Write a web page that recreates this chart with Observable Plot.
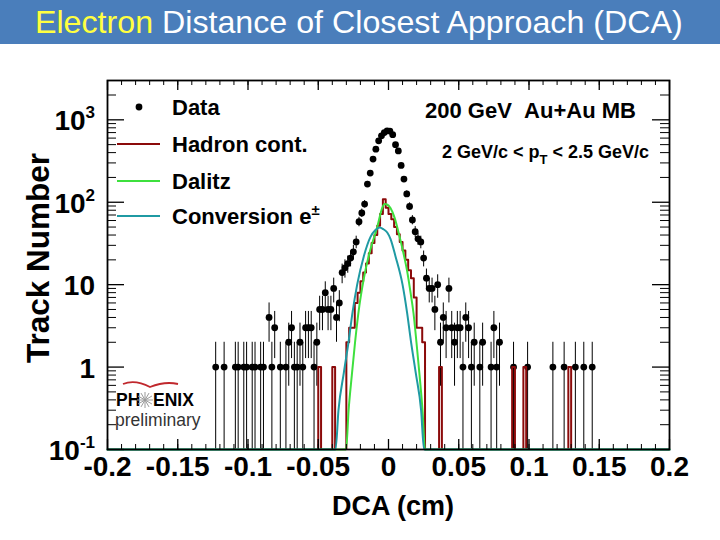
<!DOCTYPE html>
<html>
<head>
<meta charset="utf-8">
<script src="https://cdn.jsdelivr.net/npm/d3@7"></script>
<script src="https://cdn.jsdelivr.net/npm/@observablehq/plot@0.6"></script>
<style>
  html, body { margin: 0; padding: 0; background: #fff; }
  body { width: 720px; height: 540px; overflow: hidden; font-family: "Liberation Sans", Arial, Helvetica, sans-serif; }
  #banner { height: 44px; background: #4a7ebb; color: #fff; font-size: 32.2px; line-height: 44px; padding-left: 35px; white-space: nowrap; }
  #banner .y { color: #ffff40; }
</style>
</head>
<body>
<div id="banner"><span class="y">Electron</span> Distance of Closest Approach (DCA)</div>
<div id="chart"></div>
<script>
// ---------------- DATA ----------------
// Histogram binning: 200 bins of 0.002 cm from -0.2 to 0.2 cm
const binStart = -0.2;
const binWidth = 0.002;
const nBins = 200;

// Data: non-empty bin indices and their counts
const dataBins = [38,41,45,46,48,49,51,52,54,55,57,58,59,61,63,64,65,66,67,68,69,70,71,72,73,74,75,76,77,78,79,80,81,82,
  83,84,85,86,87,88,89,90,91,92,93,94,95,96,97,98,99,100,101,102,103,104,105,106,107,108,109,110,111,112,113,114,115,116,117,
  118,119,120,121,122,123,124,125,126,127,128,129,130,132,133,136,137,138,139,144,149,158,162,166,169,172];
const dataCounts = [1,1,1,1,1,1,1,1,1,1,4,1,3,1,1,2,3,1,1,2,1,3,3,3,1,2,5,5,8,5,5,9,4,6,
  14,16,18,21,25,33,58,74,95,166,226,334,441,556,640,701,736,730,660,500,420,280,191,126,89,61,44,36,33,21,12,9,9,5,10,
  2,4,3,9,3,2,3,3,1,4,3,1,2,1,2,1,3,1,2,1,1,1,1,1,1,1];

// Hadron contamination histogram: non-empty bins and contents
const hadronBins = [75,80,85,86,87,88,89,90,91,92,93,94,95,96,97,98,99,100,101,102,103,104,105,106,107,108,109,110,111,112,118,144,148,164];
const hadronVals = [1,1,2,3,3,6,8,11,14,18,24,32,40,52,72,109,86,72,62,50,41,33,26,20,15,12,7,3,3,2,1,1,1,1];

// Dalitz curve (DCA cm, track number)
const dalitzDCA = [-0.2,-0.0302,-0.0284,-0.0261,-0.0238,-0.0207,-0.0188,-0.0164,-0.0128,-0.0080,-0.0045,-0.0028,-0.0011,0.0014,0.0043,0.0073,0.0109,0.0133,0.0157,0.0178,0.0199,0.0221,0.0242,0.0260,0.2];
const dalitzVal = [0.1,0.1,0.3,0.8,2,5.6,9,15,27,50,85,95,94,85,65,42,23,14.5,8,4.5,2,0.8,0.3,0.1,0.1];

// Conversion e+- curve
const convDCA = [-0.2,-0.0377,-0.0356,-0.0318,-0.0283,-0.0256,-0.0223,-0.0176,-0.0128,-0.0093,-0.0062,-0.0036,-0.0009,0.0014,0.0050,0.0100,0.0132,0.0159,0.0194,0.0232,0.0253,0.2];
const convVal = [0.1,0.1,0.3,0.85,2.1,4.6,10,22,38,46,49.5,47,43,36,22,10,4.6,2.1,0.85,0.3,0.1,0.1];

// Tick labels
const xTicks = [-0.2,-0.15,-0.1,-0.05,0,0.05,0.1,0.15,0.2];
const xTickLabels = ["-0.2","-0.15","-0.1","-0.05","0","0.05","0.1","0.15","0.2"];
const yTicks = [0.1,1,10,100,1000];
const yTickBase = ["10","1","10","10","10"];
const yTickExp = ["-1","","","2","3"];

// Legend / annotation texts
const legendLabels = ["Data","Hadron cont.","Dalitz","Conversion e"];
const colors = {data:"#000000", hadron:"#8b0a0a", dalitz:"#3ee03e", conv:"#1f9aa3"};

// ---------------- BUILD ----------------
const FONT = "Liberation Sans, Arial, Helvetica, sans-serif";
const W = 720, H = 496;
const mL = 107, mR = 51, mT = 36, mB = 91;
const FW = W - mL - mR, FH = H - mT - mB;
const tiny = 1e-3;

const rows = dataBins.map((b, i) => ({x: binStart + (b + 0.5) * binWidth, n: dataCounts[i]}));

const hadronFull = new Array(nBins).fill(0);
hadronBins.forEach((b, i) => { hadronFull[b] = hadronVals[i]; });
const hadronPath = [];
for (let i = 0; i < nBins; i++) {
  const v = hadronFull[i] > 0 ? hadronFull[i] : tiny;
  hadronPath.push({x: binStart + i * binWidth, y: v}, {x: binStart + (i + 1) * binWidth, y: v});
}
const dalitz = dalitzDCA.map((x, i) => ({x, y: dalitzVal[i]}));
const conv = convDCA.map((x, i) => ({x, y: convVal[i]}));

const yMinor = [];
for (const d of [0.1, 1, 10, 100, 1000]) for (let k = 2; k <= 9; k++) if (d * k <= 3000) yMinor.push(d * k);
const xMinor = d3.range(-20, 21).map(k => k / 100);

const chart = Plot.plot({
  width: W, height: H,
  marginLeft: mL, marginRight: mR, marginTop: mT, marginBottom: mB,
  x: {domain: [-0.2, 0.2], axis: null},
  y: {type: "log", domain: [0.1, 3000], axis: null},
  style: {background: "white", fontFamily: FONT, overflow: "visible"},
  marks: [
    // data error bars and points
    Plot.ruleX(rows, {x: "x", y1: d => Math.max(d.n - Math.sqrt(d.n), tiny), y2: d => d.n + Math.sqrt(d.n), stroke: colors.data, strokeWidth: 1, clip: true}),
    Plot.dot(rows, {x: "x", y: "n", r: 3.4, fill: colors.data, stroke: "none"}),
    // hadron contamination histogram
    Plot.line(hadronPath, {x: "x", y: "y", stroke: colors.hadron, strokeWidth: 2, clip: true}),
    // dalitz and conversion curves
    Plot.line(dalitz, {x: "x", y: "y", stroke: colors.dalitz, strokeWidth: 2, curve: "monotone-x"}),
    Plot.line(conv, {x: "x", y: "y", stroke: colors.conv, strokeWidth: 2, curve: "monotone-x"}),
    // frame and inward ticks
    Plot.frame({stroke: "black", strokeWidth: 1.8}),
    Plot.tickY(yTicks, {y: d => d, stroke: "black", strokeWidth: 1.3, insetRight: FW - 17}),
    Plot.tickY(yMinor, {y: d => d, stroke: "black", strokeWidth: 1, insetRight: FW - 9}),
    Plot.tickY(yTicks, {y: d => d, stroke: "black", strokeWidth: 1.3, insetLeft: FW - 17}),
    Plot.tickY(yMinor, {y: d => d, stroke: "black", strokeWidth: 1, insetLeft: FW - 9}),
    Plot.tickX(xTicks, {x: d => d, stroke: "black", strokeWidth: 1.3, insetTop: FH - 10}),
    Plot.tickX(xMinor, {x: d => d, stroke: "black", strokeWidth: 1, insetTop: FH - 5}),
    Plot.tickX(xTicks, {x: d => d, stroke: "black", strokeWidth: 1.3, insetBottom: FH - 10}),
    Plot.tickX(xMinor, {x: d => d, stroke: "black", strokeWidth: 1, insetBottom: FH - 5}),
    // x tick labels
    Plot.text(xTicks, {x: d => d, frameAnchor: "bottom", dy: 26, text: (d, i) => xTickLabels[i], fontSize: 28, fontWeight: "bold", fill: "black"})
  ]
});
document.getElementById("chart").appendChild(chart);

// ---------------- ANNOTATIONS (layout) ----------------
const svg = d3.select(chart);
const ys = chart.scale("y");
const ann = svg.append("g").attr("font-family", FONT).attr("fill", "black").attr("text-anchor", "start");

// y tick labels with superscripts
yTicks.forEach((v, i) => {
  const t = ann.append("text").attr("x", 95).attr("y", ys.apply(v) + 11)
    .attr("text-anchor", "end").attr("font-size", 28).attr("font-weight", "bold");
  t.append("tspan").text(yTickBase[i]);
  if (yTickExp[i]) t.append("tspan").attr("dy", -12).attr("font-size", 17).text(yTickExp[i]);
});

// axis titles
ann.append("text").attr("x", 393).attr("y", 471).attr("text-anchor", "middle")
  .attr("font-size", 27).attr("font-weight", "bold").text("DCA (cm)");
ann.append("text").attr("transform", "translate(49,214) rotate(-90)").attr("text-anchor", "middle")
  .attr("font-size", 31.5).attr("font-weight", "bold").text("Track Number");

// legend
const legY = [63, 100, 137, 172];
ann.append("circle").attr("cx", 139).attr("cy", legY[0]).attr("r", 3.4).attr("fill", colors.data);
[[colors.hadron, legY[1]], [colors.dalitz, legY[2]], [colors.conv, legY[3]]].forEach(([c, y]) => {
  ann.append("line").attr("x1", 117).attr("x2", 160).attr("y1", y).attr("y2", y).attr("stroke", c).attr("stroke-width", 2);
});
legendLabels.forEach((s, i) => {
  const t = ann.append("text").attr("x", 172).attr("y", legY[i] + 8).attr("font-size", 22).attr("font-weight", "bold");
  t.append("tspan").text(s);
  if (i === 3) t.append("tspan").attr("dy", -9).attr("font-size", 15).text("\u00b1");
});

// run info
ann.append("text").attr("x", 425).attr("y", 74).attr("font-size", 22).attr("font-weight", "bold")
  .text("200 GeV\u00a0\u00a0Au+Au MB");
const pt = ann.append("text").attr("x", 442).attr("y", 114).attr("font-size", 18).attr("font-weight", "bold");
pt.append("tspan").text("2 GeV/c < p");
pt.append("tspan").attr("dy", 6).attr("font-size", 13).text("T");
pt.append("tspan").attr("dy", -6).text(" < 2.5 GeV/c");

// PHENIX preliminary logo
const logo = ann.append("g");
logo.append("path").attr("d", "M123,340 Q135,335 150,343 Q165,337 178,340")
  .attr("fill", "none").attr("stroke", "#c0282d").attr("stroke-width", 1.8);
logo.append("text").attr("x", 116).attr("y", 362).attr("font-size", 17.5).attr("font-weight", "bold").text("PH");
const cx = 145, cy = 356;
for (let k = 0; k < 12; k++) {
  const a = k * Math.PI / 6;
  logo.append("line").attr("x1", cx).attr("y1", cy).attr("x2", cx + 8 * Math.cos(a)).attr("y2", cy + 8 * Math.sin(a))
    .attr("stroke", "#9a9a9a").attr("stroke-width", 1);
}
logo.append("text").attr("x", 153).attr("y", 362).attr("font-size", 17.5).attr("font-weight", "bold").text("ENIX");
logo.append("text").attr("x", 115).attr("y", 382).attr("font-size", 17.5).attr("fill", "#333").text("preliminary");
</script>
</body>
</html>
